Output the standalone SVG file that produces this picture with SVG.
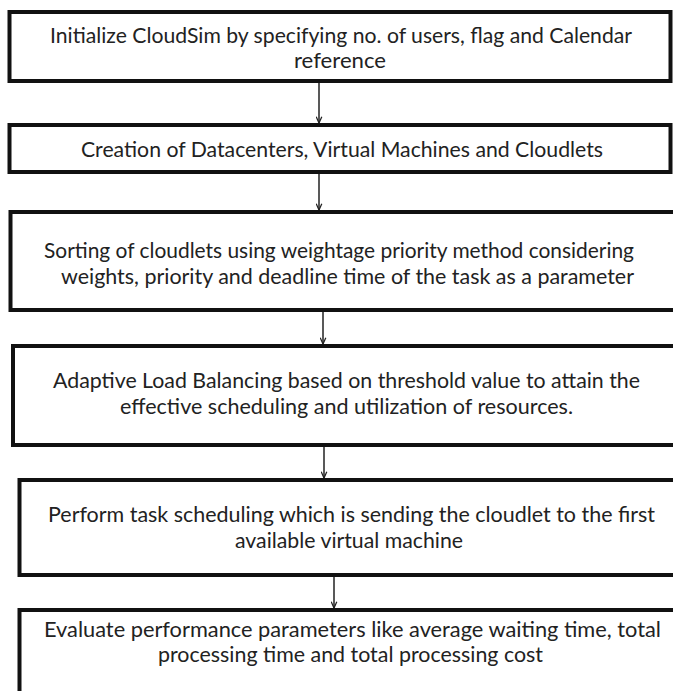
<svg xmlns="http://www.w3.org/2000/svg" width="673" height="691" viewBox="0 0 673 691">
<style>
.box{fill:#fff;stroke:#111;stroke-width:4}
.t{font-family:Lato,"Open Sans","Liberation Sans",sans-serif;font-size:21px;fill:#222;text-anchor:middle}
.c{stroke:#222;stroke-width:1.5;fill:none}
</style>
<defs>
<marker id="ah" viewBox="0 0 10 10" refX="10" refY="5" markerWidth="7" markerHeight="7" markerUnits="userSpaceOnUse" orient="auto">
<path d="M1,1 L10,5 L1,9" fill="none" stroke="#222" stroke-width="1.8"/>
</marker>
</defs>
<rect width="673" height="691" fill="#fff"/>
<g id="connectors">
<line class="c" x1="319" y1="83" x2="319" y2="123" marker-end="url(#ah)"/>
<line class="c" x1="319" y1="174" x2="319" y2="210" marker-end="url(#ah)"/>
<line class="c" x1="323" y1="312" x2="323" y2="344" marker-end="url(#ah)"/>
<line class="c" x1="324" y1="447" x2="324" y2="478" marker-end="url(#ah)"/>
<line class="c" x1="334" y1="577" x2="334" y2="608" marker-end="url(#ah)"/>
</g>
<g id="n1">
<rect class="box" x="9.5" y="12" width="661" height="69"/>
<text class="t" x="341" y="43" textLength="582" lengthAdjust="spacingAndGlyphs">Initialize CloudSim by specifying no. of users, flag and Calendar</text>
<text class="t" x="340" y="68" textLength="92" lengthAdjust="spacingAndGlyphs">reference</text>
</g>
<g id="n2">
<rect class="box" x="9.5" y="125" width="661" height="47"/>
<text class="t" x="342" y="157" textLength="522" lengthAdjust="spacingAndGlyphs">Creation of Datacenters, Virtual Machines and Cloudlets</text>
</g>
<g id="n3">
<rect class="box" x="10.5" y="212" width="690" height="98"/>
<text class="t" x="339" y="258" textLength="590" lengthAdjust="spacingAndGlyphs">Sorting of cloudlets using weightage priority method considering</text>
<text class="t" x="347.5" y="284" textLength="573" lengthAdjust="spacingAndGlyphs">weights, priority and deadline time of the task as a parameter</text>
</g>
<g id="n4">
<rect class="box" x="13" y="346" width="690" height="99"/>
<text class="t" x="346.5" y="388" textLength="587" lengthAdjust="spacingAndGlyphs">Adaptive Load Balancing based on threshold value to attain the</text>
<text class="t" x="346.5" y="414" textLength="453" lengthAdjust="spacingAndGlyphs">effective scheduling and utilization of resources.</text>
</g>
<g id="n5">
<rect class="box" x="19.5" y="480" width="690" height="95"/>
<text class="t" x="351.5" y="522" textLength="607" lengthAdjust="spacingAndGlyphs">Perform task scheduling which is sending the cloudlet to the first</text>
<text class="t" x="349" y="548" textLength="228" lengthAdjust="spacingAndGlyphs">available virtual machine</text>
</g>
<g id="n6">
<rect class="box" x="19.5" y="610" width="690" height="120"/>
<text class="t" x="352.5" y="637" textLength="617" lengthAdjust="spacingAndGlyphs">Evaluate performance parameters like average waiting time, total</text>
<text class="t" x="350.5" y="662" textLength="385" lengthAdjust="spacingAndGlyphs">processing time and total processing cost</text>
</g>
</svg>
